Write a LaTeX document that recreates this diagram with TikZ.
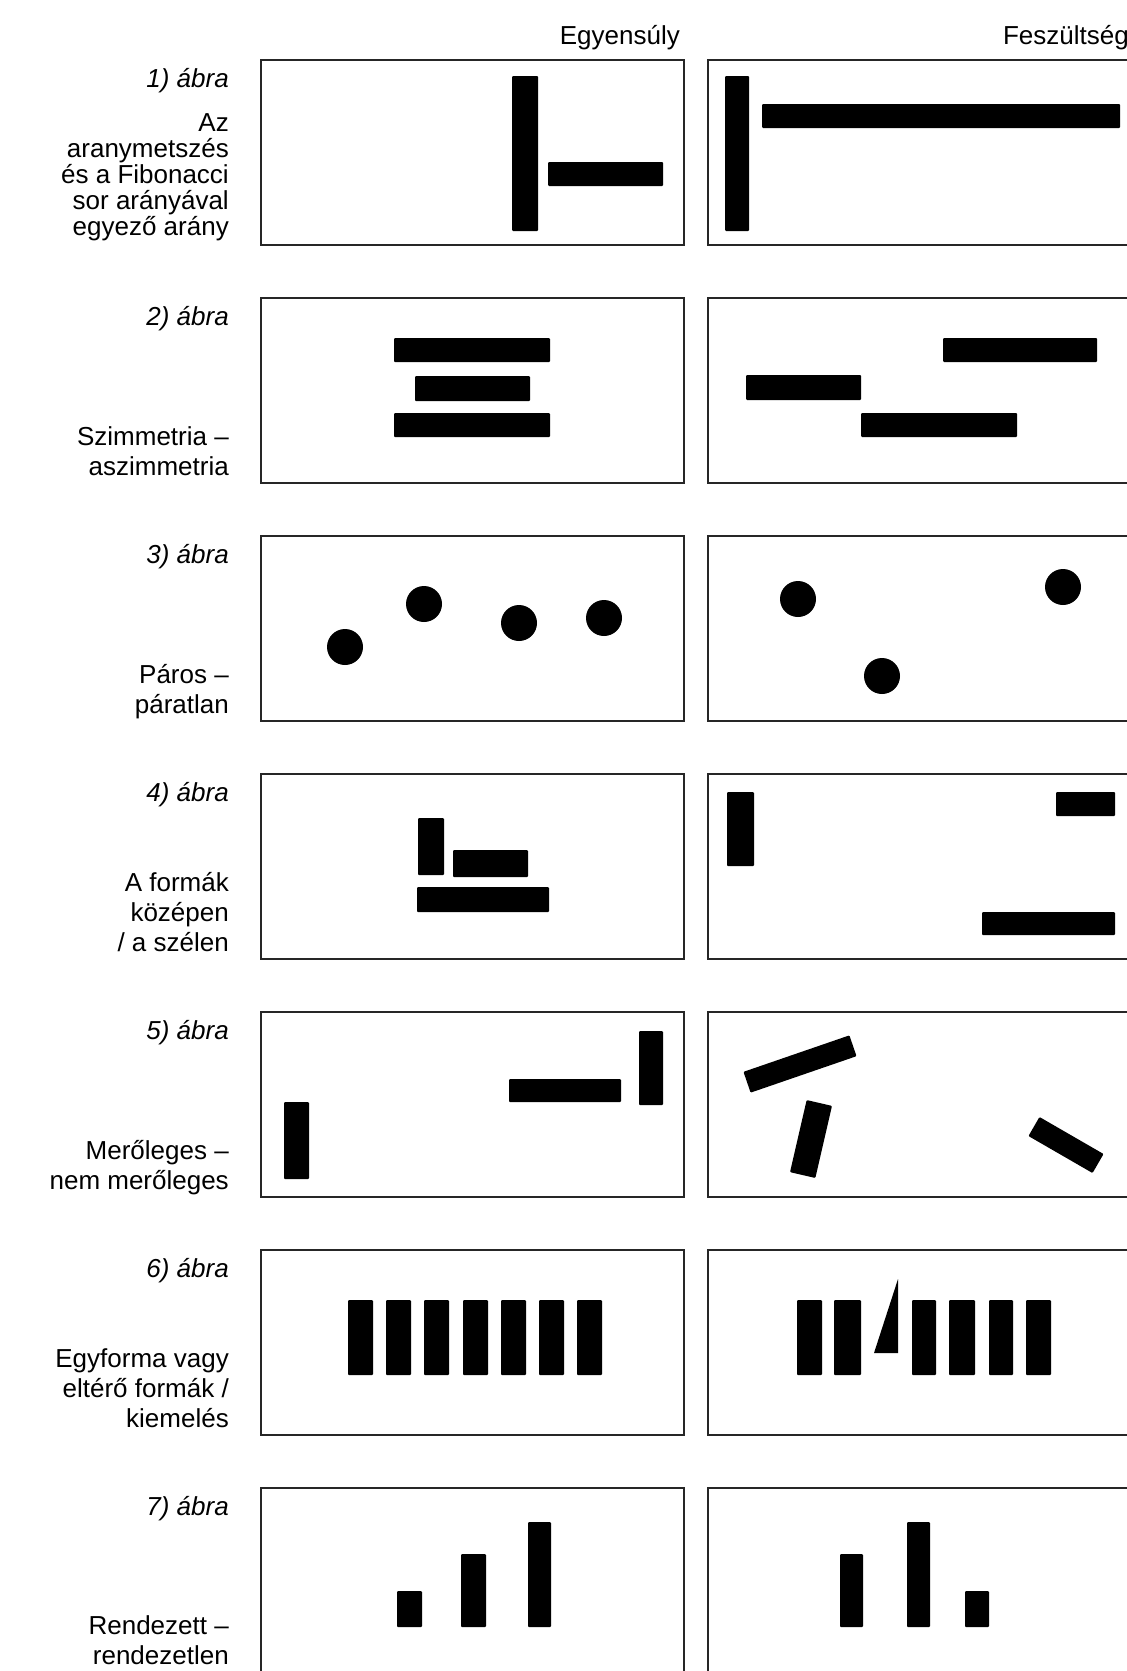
\documentclass[tikz,border=0pt]{standalone}
\usepackage{fontspec}
\setmainfont{Liberation Sans}
\begin{document}
\begin{tikzpicture}[x=1pt,y=-1pt,
    panel/.style={draw=black!85,line width=1.8pt},
    bar/.style={fill=black,rounded corners=1pt},
    dot/.style={fill=black},
    head/.style={anchor=base east,inner sep=0pt,font=\fontsize{26}{30}\selectfont},
    fignum/.style={anchor=base east,inner sep=0pt,font=\fontsize{26}{30}\selectfont\itshape},
    caption/.style={anchor=base east,inner sep=0pt,align=right,font=\fontsize{26}{30}\selectfont}]
  \useasboundingbox (0,0) rectangle (1127,1671);

  \node[head] at (680, 44) (egyensuly) {Egyensúly};
  \node[head] at (1129, 44) (feszultseg) {Feszültség};

  \draw[panel] (261, 60) rectangle (684, 245);
  \draw[panel] (708, 60) rectangle (1131, 245);
  \draw[panel] (261, 298) rectangle (684, 483);
  \draw[panel] (708, 298) rectangle (1131, 483);
  \draw[panel] (261, 536) rectangle (684, 721);
  \draw[panel] (708, 536) rectangle (1131, 721);
  \draw[panel] (261, 774) rectangle (684, 959);
  \draw[panel] (708, 774) rectangle (1131, 959);
  \draw[panel] (261, 1012) rectangle (684, 1197);
  \draw[panel] (708, 1012) rectangle (1131, 1197);
  \draw[panel] (261, 1250) rectangle (684, 1435);
  \draw[panel] (708, 1250) rectangle (1131, 1435);
  \draw[panel] (261, 1488) rectangle (684, 1673);
  \draw[panel] (708, 1488) rectangle (1131, 1673);

  \node[fignum] at (229, 87) (abra1) {1) ábra};
  \node[caption,font=\fontsize{26}{26}\selectfont] at (229, 235) (aranymetszes) {Az\\aranymetszés\\és a Fibonacci\\sor arányával\\egyező arány};
  \fill[bar] (512, 76) rectangle (538, 231);
  \fill[bar] (548, 162) rectangle (663, 186);
  \fill[bar] (725, 76) rectangle (749, 231);
  \fill[bar] (762, 104) rectangle (1120, 128);

  \node[fignum] at (229, 325) (abra2) {2) ábra};
  \node[caption] at (229, 475) (szimmetria) {Szimmetria –\\aszimmetria};
  \fill[bar] (394, 338) rectangle (550, 362);
  \fill[bar] (415, 376) rectangle (530, 401);
  \fill[bar] (394, 413) rectangle (550, 437);
  \fill[bar] (943, 338) rectangle (1097, 362);
  \fill[bar] (746, 375) rectangle (861, 400);
  \fill[bar] (861, 413) rectangle (1017, 437);

  \node[fignum] at (229, 563) (abra3) {3) ábra};
  \node[caption] at (229, 713) (paros) {Páros –\\páratlan};
  \fill[dot] (345, 647) circle [radius=18pt];
  \fill[dot] (424, 604) circle [radius=18pt];
  \fill[dot] (519, 623) circle [radius=18pt];
  \fill[dot] (604, 618) circle [radius=18pt];
  \fill[dot] (798, 599) circle [radius=18pt];
  \fill[dot] (882, 676) circle [radius=18pt];
  \fill[dot] (1063, 587) circle [radius=18pt];

  \node[fignum] at (229, 801) (abra4) {4) ábra};
  \node[caption] at (229, 951) (formak) {A formák\\középen\\/ a szélen};
  \fill[bar] (418, 818) rectangle (444, 875);
  \fill[bar] (453, 850) rectangle (528, 877);
  \fill[bar] (417, 887) rectangle (549, 912);
  \fill[bar] (727, 792) rectangle (754, 866);
  \fill[bar] (1056, 792) rectangle (1115, 816);
  \fill[bar] (982, 912) rectangle (1115, 935);

  \node[fignum] at (229, 1039) (abra5) {5) ábra};
  \node[caption] at (229, 1189) (meroleges) {Merőleges –\\nem merőleges};
  \fill[bar] (284, 1102) rectangle (309, 1179);
  \fill[bar] (509, 1079) rectangle (621, 1102);
  \fill[bar] (639, 1031) rectangle (663, 1105);
  \fill[bar, rotate around={19:(800,1064)}] (744, 1053) rectangle (856, 1075);
  \fill[bar, rotate around={77:(811,1139)}] (774, 1126) rectangle (848, 1152);
  \fill[bar, rotate around={-30:(1066,1145)}] (1029, 1134) rectangle (1103, 1156);

  \node[fignum] at (229, 1277) (abra6) {6) ábra};
  \node[caption] at (229, 1427) (egyforma) {Egyforma vagy\\eltérő formák /\\kiemelés};
  \fill[bar] (348, 1300) rectangle (373, 1375);
  \fill[bar] (386, 1300) rectangle (411, 1375);
  \fill[bar] (424, 1300) rectangle (449, 1375);
  \fill[bar] (463, 1300) rectangle (488, 1375);
  \fill[bar] (501, 1300) rectangle (526, 1375);
  \fill[bar] (539, 1300) rectangle (564, 1375);
  \fill[bar] (577, 1300) rectangle (602, 1375);
  \fill[bar] (797, 1300) rectangle (822, 1375);
  \fill[bar] (834, 1300) rectangle (861, 1375);
  \fill[dot] (874, 1353) -- (898, 1353) -- (898, 1279) -- cycle;
  \fill[bar] (912, 1300) rectangle (936, 1375);
  \fill[bar] (949, 1300) rectangle (975, 1375);
  \fill[bar] (989, 1300) rectangle (1013, 1375);
  \fill[bar] (1026, 1300) rectangle (1051, 1375);

  \node[fignum] at (229, 1515) (abra7) {7) ábra};
  \node[caption] at (229, 1664) (rendezett) {Rendezett –\\rendezetlen};
  \fill[bar] (397, 1591) rectangle (422, 1627);
  \fill[bar] (461, 1554) rectangle (486, 1627);
  \fill[bar] (528, 1522) rectangle (551, 1627);
  \fill[bar] (840, 1554) rectangle (863, 1627);
  \fill[bar] (907, 1522) rectangle (930, 1627);
  \fill[bar] (965, 1591) rectangle (989, 1627);
\end{tikzpicture}
\end{document}
